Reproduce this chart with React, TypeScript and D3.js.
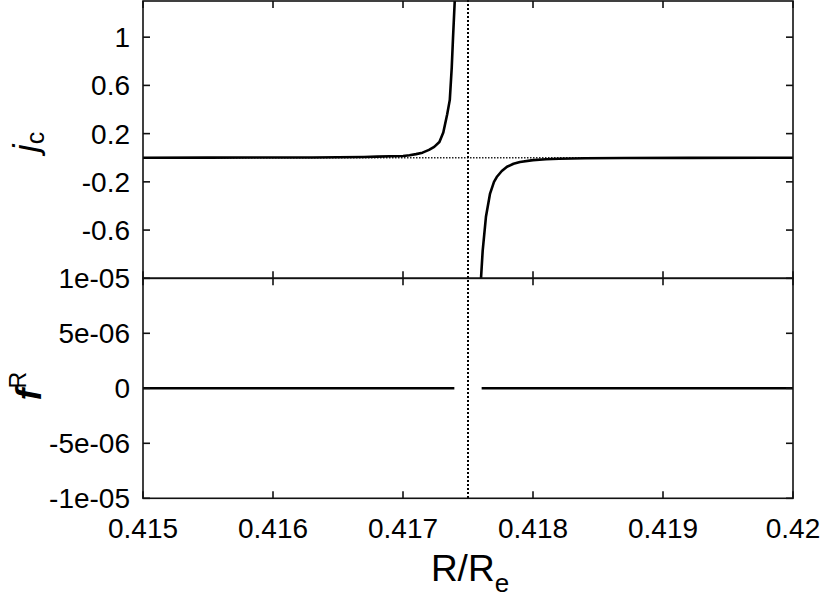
import React from "react";
import * as d3 from "d3";

// ---- data ----
const jcLeftX = [0.415, 0.4155, 0.416, 0.4163, 0.4165, 0.4167, 0.4168, 0.4169, 0.417, 0.41705, 0.4171, 0.41715, 0.4172, 0.41724, 0.41728, 0.41731, 0.41734, 0.41736, 0.417375, 0.417385, 0.417398, 0.41741];
const jcLeftY = [0, 0.001, 0.0015, 0.0025, 0.0035, 0.006, 0.009, 0.012, 0.015, 0.02, 0.03, 0.042, 0.065, 0.09, 0.13, 0.21, 0.36, 0.48, 0.75, 1.0, 1.3, 1.7];
const jcRightX = [0.41759, 0.4176, 0.417613, 0.417638, 0.417669, 0.4177, 0.417721, 0.41776, 0.4178, 0.41785, 0.4179, 0.418, 0.4181, 0.4182, 0.4184, 0.4187, 0.4192, 0.42];
const jcRightY = [-1.6, -1.0, -0.77, -0.49, -0.3, -0.2, -0.16, -0.11, -0.075, -0.05, -0.035, -0.02, -0.012, -0.008, -0.004, -0.002, -0.001, -0.0005];
const fRLeftX = [0.415, 0.417395];
const fRRightX = [0.417605, 0.42];
const fRValue = 0;
const poleX = 0.4175;

const xTicks = [0.415, 0.416, 0.417, 0.418, 0.419, 0.42];
const xTickLabels = ["0.415", "0.416", "0.417", "0.418", "0.419", "0.42"];
const topTicks = [-0.6, -0.2, 0.2, 0.6, 1];
const topTickLabels = ["-0.6", "-0.2", "0.2", "0.6", "1"];
const botTicks = [-1e-5, -5e-6, 0, 5e-6, 1e-5];
const botTickLabels = ["-1e-05", "-5e-06", "0", "5e-06", "1e-05"];

export default function App() {
  const L = 143, R = 793, T = 1, M = 278.3, B = 498.3;
  const x = d3.scaleLinear().domain([0.415, 0.42]).range([L, R]);
  const yTop = d3.scaleLinear().domain([-1, 1.3]).range([M, T]);
  const yBot = d3.scaleLinear().domain([-1e-5, 1e-5]).range([B, M]);

  const lineTop = d3.line<[number, number]>().x(d => x(d[0])).y(d => yTop(d[1]));
  const lineBot = d3.line<[number, number]>().x(d => x(d[0])).y(d => yBot(d[1]));

  const left = jcLeftX.map((v, i) => [v, jcLeftY[i]] as [number, number]);
  const right = jcRightX.map((v, i) => [v, jcRightY[i]] as [number, number]);
  const fL = fRLeftX.map(v => [v, fRValue] as [number, number]);
  const fRt = fRRightX.map(v => [v, fRValue] as [number, number]);

  const font = "'Liberation Sans', Arial, Helvetica, sans-serif";
  const tl = 7;
  const axisColor = "#111";
  const sw = 1.6;
  const fs = 28;

  return (
    <svg width={830} height={599} style={{ position: "absolute", left: 0, top: 0, background: "#fff" }} fontFamily={font}>
      <defs>
        <clipPath id="clipTop">
          <rect x={L} y={T} width={R - L} height={M - T} />
        </clipPath>
      </defs>
      {/* zero dotted line top panel */}
      <line x1={L} x2={R} y1={yTop(0)} y2={yTop(0)} stroke="#222" strokeWidth={1.3} strokeDasharray="1.5,1.5" />
      {/* vertical dotted pole line */}
      <line x1={x(poleX)} x2={x(poleX)} y1={0} y2={B} stroke="#000" strokeWidth={2} strokeDasharray="2,2" />
      {/* curves */}
      <g clipPath="url(#clipTop)">
        <path d={lineTop(left) || ""} fill="none" stroke="#000" strokeWidth={2.6} strokeLinejoin="round" />
        <path d={lineTop(right) || ""} fill="none" stroke="#000" strokeWidth={2.6} strokeLinejoin="round" />
      </g>
      <path d={lineBot(fL) || ""} fill="none" stroke="#000" strokeWidth={2.6} />
      <path d={lineBot(fRt) || ""} fill="none" stroke="#000" strokeWidth={2.6} />

      {/* frames */}
      <rect x={L} y={T} width={R - L} height={M - T} fill="none" stroke={axisColor} strokeWidth={sw} />
      <rect x={L} y={M} width={R - L} height={B - M} fill="none" stroke={axisColor} strokeWidth={sw} />

      {/* x ticks */}
      {xTicks.map((t, i) => (
        <g key={"xt" + i}>
          <line x1={x(t)} x2={x(t)} y1={T} y2={T + tl} stroke={axisColor} strokeWidth={sw} />
          <line x1={x(t)} x2={x(t)} y1={M - tl} y2={M + tl} stroke={axisColor} strokeWidth={sw} />
          <line x1={x(t)} x2={x(t)} y1={B - tl} y2={B} stroke={axisColor} strokeWidth={sw} />
          <text x={x(t)} y={538} textAnchor="middle" fontSize={fs} fill="#000">{xTickLabels[i]}</text>
        </g>
      ))}
      {/* top y ticks */}
      {topTicks.map((t, i) => (
        <g key={"yt" + i}>
          <line x1={L} x2={L + tl} y1={yTop(t)} y2={yTop(t)} stroke={axisColor} strokeWidth={sw} />
          <line x1={R - tl} x2={R} y1={yTop(t)} y2={yTop(t)} stroke={axisColor} strokeWidth={sw} />
          <text x={130} y={yTop(t)} dy="0.36em" textAnchor="end" fontSize={fs} fill="#000">{topTickLabels[i]}</text>
        </g>
      ))}
      {/* bottom y ticks */}
      {botTicks.map((t, i) => (
        <g key={"yb" + i}>
          <line x1={L} x2={L + tl} y1={yBot(t)} y2={yBot(t)} stroke={axisColor} strokeWidth={sw} />
          <line x1={R - tl} x2={R} y1={yBot(t)} y2={yBot(t)} stroke={axisColor} strokeWidth={sw} />
          <text x={130} y={yBot(t)} dy="0.36em" textAnchor="end" fontSize={fs} fill="#000">{botTickLabels[i]}</text>
        </g>
      ))}

      {/* axis titles */}
      <text x={470} y={581} textAnchor="middle" fontSize={37} fill="#000">
        R/R<tspan fontSize={26} dy={11}>e</tspan>
      </text>
      <text transform="translate(38,142) rotate(-90)" textAnchor="middle" fontSize={35} fill="#000">
        <tspan fontStyle="italic">j</tspan><tspan fontSize={25} dy={6}>c</tspan>
      </text>
      <text transform="translate(41,386) rotate(-90)" textAnchor="middle" fontSize={35} fill="#000">
        <tspan fontStyle="italic" fontWeight="bold">f</tspan><tspan fontSize={23} dy={-15}>R</tspan>
      </text>
    </svg>
  );
}
